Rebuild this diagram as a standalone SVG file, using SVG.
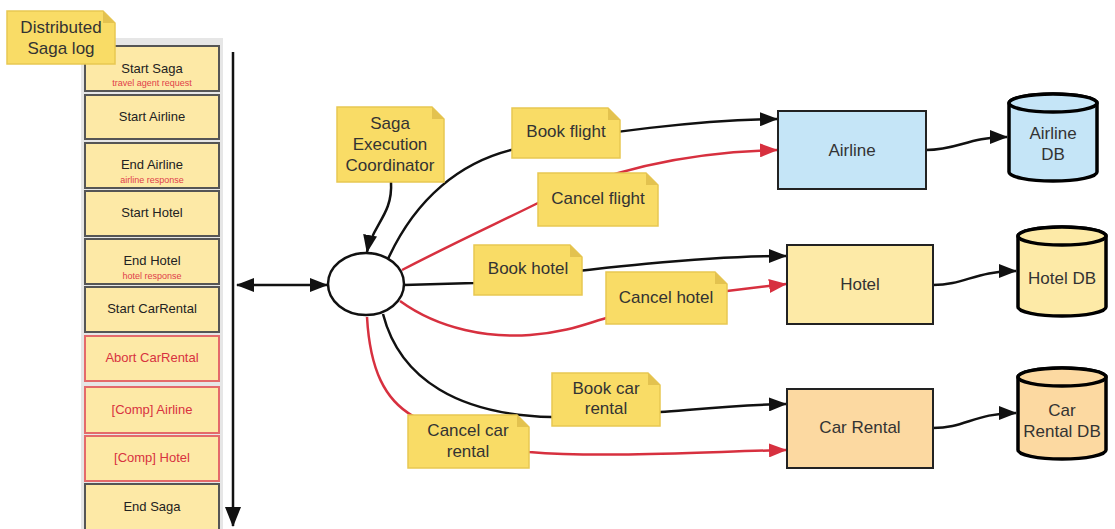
<svg xmlns="http://www.w3.org/2000/svg" width="1115" height="529" viewBox="0 0 1115 529">
<style>
.log{fill:#fde9a6;stroke:#555;stroke-width:2}
.logr{fill:#fde9a6;stroke:#e46a6a;stroke-width:2}
.lt{font-family:"Liberation Sans",Arial,sans-serif;font-size:13px;fill:#222;text-anchor:middle}
.ltr{font-family:"Liberation Sans",Arial,sans-serif;font-size:13px;fill:#d8323f;text-anchor:middle}
.ls{font-family:"Liberation Sans",Arial,sans-serif;font-size:9px;fill:#e0404a;text-anchor:middle}
.note{fill:#f9dc66;stroke:#e8c752;stroke-width:1.5}
.fold{fill:#e3c24f}
.t{font-family:"Liberation Sans",Arial,sans-serif;font-size:17px;fill:#333;text-anchor:middle}
.c{fill:none;stroke:#111;stroke-width:2.5}
.cr{fill:none;stroke:#d7303f;stroke-width:2.5}
.box{stroke:#222;stroke-width:2}
.db{stroke:#000;stroke-width:3.5}
</style>
<defs>
<marker id="ab" markerUnits="userSpaceOnUse" markerWidth="18" markerHeight="14" refX="17" refY="7" orient="auto-start-reverse"><path d="M0,0 L18,7 L0,14 z" fill="#111"/></marker>
<marker id="ar" markerUnits="userSpaceOnUse" markerWidth="18" markerHeight="14" refX="17" refY="7" orient="auto"><path d="M0,0 L18,7 L0,14 z" fill="#d7303f"/></marker>
<marker id="abig" markerUnits="userSpaceOnUse" markerWidth="20" markerHeight="16" refX="19" refY="8" orient="auto"><path d="M0,0 L20,8 L0,16 z" fill="#111"/></marker>
</defs>
<rect width="1115" height="529" fill="#fff"/>

<g id="log">
<rect x="81" y="38" width="142" height="491" fill="#e6e6e6"/>
<g id="log-start-saga"><rect class="log" x="85" y="46" width="134" height="45"/><text class="lt" x="152" y="73">Start Saga</text><text class="ls" x="152" y="86">travel agent request</text></g>
<g id="log-start-airline"><rect class="log" x="85" y="95" width="134" height="44"/><text class="lt" x="152" y="121">Start Airline</text></g>
<g id="log-end-airline"><rect class="log" x="85" y="143" width="134" height="45"/><text class="lt" x="152" y="169">End Airline</text><text class="ls" x="152" y="183">airline response</text></g>
<g id="log-start-hotel"><rect class="log" x="85" y="191" width="134" height="45"/><text class="lt" x="152" y="217">Start Hotel</text></g>
<g id="log-end-hotel"><rect class="log" x="85" y="239" width="134" height="45"/><text class="lt" x="152" y="265">End Hotel</text><text class="ls" x="152" y="279">hotel response</text></g>
<g id="log-start-carrental"><rect class="log" x="85" y="287" width="134" height="45"/><text class="lt" x="152" y="313">Start CarRental</text></g>
<g id="log-abort-carrental"><rect class="logr" x="85" y="336" width="134" height="45"/><text class="ltr" x="152" y="362">Abort CarRental</text></g>
<g id="log-comp-airline"><rect class="logr" x="85" y="387" width="134" height="46"/><text class="ltr" x="152" y="414">[Comp] Airline</text></g>
<g id="log-comp-hotel"><rect class="logr" x="85" y="436" width="134" height="45"/><text class="ltr" x="152" y="462">[Comp] Hotel</text></g>
<g id="log-end-saga"><rect class="log" x="85" y="484" width="134" height="50"/><text class="lt" x="152" y="511">End Saga</text></g>
</g>

<g id="connectors">
<path class="c" d="M233,52 L233,526" stroke-width="3" marker-end="url(#abig)"/>
<path class="c" d="M237,285 L327,285" marker-start="url(#ab)" marker-end="url(#ab)"/>
<path class="c" d="M391,182 C393,215 372,225 367,252" marker-end="url(#ab)"/>
<path class="c" d="M388,259 C415,200 460,160 520,148 C600,132 700,120 777,119" marker-end="url(#ab)"/>
<path class="cr" d="M402,270 C460,240 500,222 540,202 C600,174 680,152 777,150" marker-end="url(#ar)"/>
<path class="c" d="M404,285 L474,283 C600,268 700,256 786,256" marker-end="url(#ab)"/>
<path class="cr" d="M400,301 C440,330 490,338 530,335 C570,332 590,322 610,317 L727,291 L786,284" marker-end="url(#ar)"/>
<path class="c" d="M383,314 C400,380 460,415 552,417 L660,412 C700,409 740,405 786,404" marker-end="url(#ab)"/>
<path class="cr" d="M367,317 C370,370 385,400 413,416 L529,452 C600,458 700,452 786,450" marker-end="url(#ar)"/>
<path class="c" d="M926,150 C958,150 968,137 1007,137" marker-end="url(#ab)"/>
<path class="c" d="M933,285 C965,285 975,271 1016,271" marker-end="url(#ab)"/>
<path class="c" d="M933,428 C965,428 975,413 1016,413" marker-end="url(#ab)"/>
</g>

<g id="note-log"><path class="note" d="M7,11 L103,11 L115,23 L115,64 L7,64 Z"/><path class="fold" d="M103,11 L115,23 L103,23 Z"/><text class="t" x="61" y="33">Distributed</text><text class="t" x="61" y="54">Saga log</text></g>

<g id="coordinator"><ellipse cx="366" cy="284" rx="38" ry="31" fill="#fff" stroke="#111" stroke-width="2.5"/></g>

<g id="note-sec"><path class="note" d="M337,107 L432,107 L444,119 L444,182 L337,182 Z"/><path class="fold" d="M432,107 L444,119 L432,119 Z"/><text class="t" x="390" y="129">Saga</text><text class="t" x="390" y="150">Execution</text><text class="t" x="390" y="171">Coordinator</text></g>

<g id="note-book-flight"><path class="note" d="M512,108 L608,108 L620,120 L620,158 L512,158 Z"/><path class="fold" d="M608,108 L620,120 L608,120 Z"/><text class="t" x="566" y="137">Book flight</text></g>
<g id="note-cancel-flight"><path class="note" d="M538,173 L646,173 L658,185 L658,226 L538,226 Z"/><path class="fold" d="M646,173 L658,185 L646,185 Z"/><text class="t" x="598" y="204">Cancel flight</text></g>
<g id="note-book-hotel"><path class="note" d="M474,245 L570,245 L582,257 L582,295 L474,295 Z"/><path class="fold" d="M570,245 L582,257 L570,257 Z"/><text class="t" x="528" y="274">Book hotel</text></g>
<g id="note-cancel-hotel"><path class="note" d="M606,272 L715,272 L727,284 L727,324 L606,324 Z"/><path class="fold" d="M715,272 L727,284 L715,284 Z"/><text class="t" x="666" y="303">Cancel hotel</text></g>
<g id="note-book-car"><path class="note" d="M552,373 L648,373 L660,385 L660,426 L552,426 Z"/><path class="fold" d="M648,373 L660,385 L648,385 Z"/><text class="t" x="606" y="394">Book car</text><text class="t" x="606" y="414">rental</text></g>
<g id="note-cancel-car"><path class="note" d="M408,415 L517,415 L529,427 L529,468 L408,468 Z"/><path class="fold" d="M517,415 L529,427 L517,427 Z"/><text class="t" x="468" y="436">Cancel car</text><text class="t" x="468" y="457">rental</text></g>

<g id="airline"><rect class="box" x="778" y="111" width="148" height="78" fill="#c5e5f7"/><text class="t" x="852" y="156">Airline</text></g>
<g id="hotel"><rect class="box" x="787" y="245" width="146" height="79" fill="#fdeaa7"/><text class="t" x="860" y="290">Hotel</text></g>
<g id="car-rental"><rect class="box" x="787" y="389" width="146" height="79" fill="#fcd9a1"/><text class="t" x="860" y="433">Car Rental</text></g>

<g id="airline-db"><path class="db" fill="#c5e5f7" d="M1009,103 L1009,172 A44,9 0 0 0 1097,172 L1097,103 A44,9 0 0 0 1009,103 Z"/><ellipse class="db" cx="1053" cy="103" rx="44" ry="9" fill="#c5e5f7"/><text class="t" x="1053" y="139">Airline</text><text class="t" x="1053" y="160">DB</text></g>
<g id="hotel-db"><path class="db" fill="#fdeaa7" d="M1018,236 L1018,307 A44,9 0 0 0 1106,307 L1106,236 A44,9 0 0 0 1018,236 Z"/><ellipse class="db" cx="1062" cy="236" rx="44" ry="9" fill="#fdeaa7"/><text class="t" x="1062" y="284">Hotel DB</text></g>
<g id="car-db"><path class="db" fill="#fcd9a1" d="M1018,377 L1018,450 A44,9 0 0 0 1106,450 L1106,377 A44,9 0 0 0 1018,377 Z"/><ellipse class="db" cx="1062" cy="377" rx="44" ry="9" fill="#fcd9a1"/><text class="t" x="1062" y="416">Car</text><text class="t" x="1062" y="437">Rental DB</text></g>
</svg>
